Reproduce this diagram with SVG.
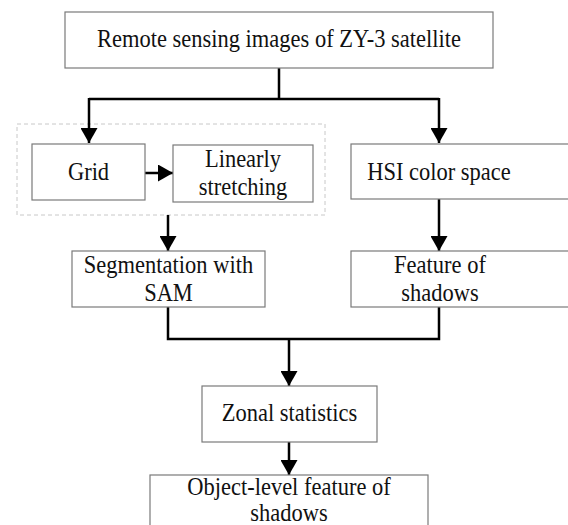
<svg xmlns="http://www.w3.org/2000/svg" width="568" height="525" viewBox="0 0 568 525">
<defs>
<style>
.box{fill:#fff;stroke:#7a7a7a;stroke-width:1.2}
.t{font-family:"Liberation Serif","Times New Roman",serif;font-size:22.5px;fill:#111;text-anchor:middle}
.c{fill:none;stroke:#000;stroke-width:2.5}
</style>
<marker id="ah" markerUnits="userSpaceOnUse" markerWidth="15" markerHeight="17" viewBox="0 0 15 17" refX="15" refY="8.5" orient="auto">
<path d="M0,0 L15,8.5 L0,17 z" fill="#000"/>
</marker>
</defs>
<rect width="568" height="525" fill="#fff"/>
<rect id="group" x="17" y="124" width="308" height="91" fill="none" stroke="#c8c8c8" stroke-width="1" stroke-dasharray="4,3"/>
<g id="connectors">
<path class="c" d="M279,68 V99 M89,99 H439"/>
<path class="c" d="M89,98 V143" marker-end="url(#ah)"/>
<path class="c" d="M439,98 V143" marker-end="url(#ah)"/>
<path class="c" d="M145,173 H173" marker-end="url(#ah)"/>
<path class="c" d="M168,215 V251" marker-end="url(#ah)"/>
<path class="c" d="M439,199 V251" marker-end="url(#ah)"/>
<path class="c" d="M168,307 V339 H439 V307"/>
<path class="c" d="M289,339 V386" marker-end="url(#ah)"/>
<path class="c" d="M289,442 V475" marker-end="url(#ah)"/>
</g>
<g id="remote">
<rect class="box" x="65" y="12" width="428" height="56"/>
<text class="t" transform="translate(279,47) scale(1,1.15)">Remote sensing images of ZY-3 satellite</text>
</g>
<g id="grid">
<rect class="box" x="32" y="144" width="113" height="56"/>
<text class="t" transform="translate(88.5,180) scale(1,1.15)">Grid</text>
</g>
<g id="linear">
<rect class="box" x="173" y="145" width="140" height="57"/>
<text class="t" transform="translate(243,167) scale(1,1.15)">Linearly</text>
<text class="t" transform="translate(243,195) scale(1,1.15)">stretching</text>
</g>
<g id="hsi">
<rect class="box" x="351" y="144" width="225" height="55"/>
<text class="t" transform="translate(439,180) scale(1,1.15)">HSI color space</text>
</g>
<g id="seg">
<rect class="box" x="72" y="251" width="193" height="56"/>
<text class="t" transform="translate(168.5,273) scale(1,1.15)">Segmentation with</text>
<text class="t" transform="translate(168.5,301) scale(1,1.15)">SAM</text>
</g>
<g id="feature">
<rect class="box" x="351" y="251" width="225" height="56"/>
<text class="t" transform="translate(440,273) scale(1,1.15)">Feature of</text>
<text class="t" transform="translate(440,301) scale(1,1.15)">shadows</text>
</g>
<g id="zonal">
<rect class="box" x="202" y="386" width="175" height="56"/>
<text class="t" transform="translate(289.5,421) scale(1,1.15)">Zonal statistics</text>
</g>
<g id="object">
<rect class="box" x="150" y="475" width="278" height="60"/>
<text class="t" transform="translate(289,495) scale(1,1.15)">Object-level feature of</text>
<text class="t" transform="translate(289,521) scale(1,1.15)">shadows</text>
</g>
</svg>
